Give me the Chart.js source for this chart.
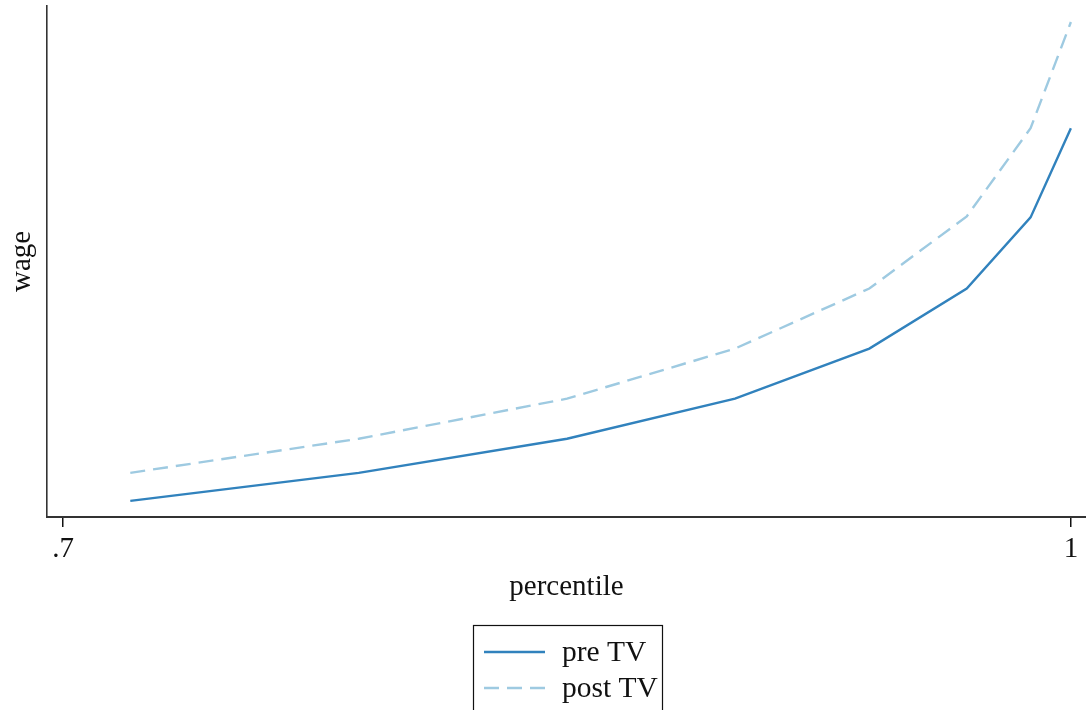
<!DOCTYPE html>
<html>
<head>
<meta charset="utf-8">
<script src="https://cdn.jsdelivr.net/npm/chart.js@4/dist/chart.umd.min.js"></script>
<style>
  html, body { margin: 0; padding: 0; background: #fff; }
  #wrap { width: 1086px; height: 710px; }
</style>
</head>
<body>
<div id="wrap"><canvas id="mychart" width="1086" height="710"></canvas></div>
<script>
// data
const percentile = [0.72, 0.788, 0.85, 0.90, 0.94, 0.969, 0.988, 1.00];
const preTV = [1.6, 4.4, 7.8, 11.8, 16.8, 22.8, 29.9, 38.8];
const postTV = [4.4, 7.8, 11.8, 16.8, 22.8, 30.0, 38.8, 49.4];
const xTicks = [0.7, 1];
const xTickLabels = ['.7', '1'];

const serif = '"Liberation Serif", "Times New Roman", serif';

// boxed legend in one column, like the stata one
const boxLegend = {
    id: 'boxLegend',
    afterDraw(chart) {
        const ctx = chart.ctx;
        const left = 473.5, top = 625.5, w = 189;
        ctx.save();
        ctx.strokeStyle = '#111';
        ctx.lineWidth = 1.2;
        ctx.strokeRect(left, top, w, 120);
        chart.data.datasets.forEach((ds, i) => {
            const y = 652 + i * 36;
            ctx.beginPath();
            ctx.setLineDash(ds.borderDash || []);
            ctx.strokeStyle = ds.borderColor;
            ctx.lineWidth = ds.borderWidth;
            ctx.moveTo(484, y);
            ctx.lineTo(545, y);
            ctx.stroke();
            ctx.setLineDash([]);
            ctx.fillStyle = '#111';
            ctx.font = '29.5px ' + serif;
            ctx.textBaseline = 'middle';
            ctx.fillText(ds.label, 562, y + 1);
        });
        ctx.restore();
    }
};

const ctx = document.getElementById('mychart').getContext('2d');
const myChart = new Chart(ctx, {
    type: 'line',
    data: {
        datasets: [
            {
                label: 'pre TV',
                data: percentile.map((x, i) => ({x: x, y: preTV[i]})),
                borderColor: '#3182bd',
                borderWidth: 2.4,
                pointRadius: 0,
                fill: false
            },
            {
                label: 'post TV',
                data: percentile.map((x, i) => ({x: x, y: postTV[i]})),
                borderColor: '#9ecae1',
                borderWidth: 2.4,
                borderDash: [15, 8],
                pointRadius: 0,
                fill: false
            }
        ]
    },
    options: {
        responsive: false,
        animation: false,
        layout: {
            padding: {top: 6, right: 0, bottom: 105.5, left: 0}
        },
        plugins: {
            legend: {display: false},
            tooltip: {enabled: false}
        },
        scales: {
            x: {
                type: 'linear',
                min: 0.6952,
                max: 1.0045,
                afterBuildTicks: (scale) => {
                    scale.ticks = xTicks.map(v => ({value: v}));
                },
                ticks: {
                    color: '#111',
                    font: {family: serif, size: 29},
                    padding: 5,
                    maxRotation: 0,
                    callback: (v) => xTickLabels[xTicks.indexOf(v)]
                },
                grid: {
                    drawOnChartArea: false,
                    drawTicks: true,
                    tickLength: 10,
                    tickColor: '#111',
                    lineWidth: 1.5
                },
                border: {display: true, color: '#333', width: 2},
                title: {
                    display: true,
                    text: 'percentile',
                    color: '#111',
                    font: {family: serif, size: 29},
                    padding: {top: -2, bottom: 0}
                }
            },
            y: {
                min: 0,
                max: 51,
                ticks: {display: false},
                grid: {display: false, drawTicks: false},
                border: {display: true, color: '#333', width: 1.6},
                title: {
                    display: true,
                    text: 'wage',
                    color: '#111',
                    font: {family: serif, size: 29},
                    padding: {top: 5, bottom: 0}
                },
                afterFit: (scale) => { scale.width = 47; }
            }
        }
    },
    plugins: [boxLegend]
});
</script>
</body>
</html>
